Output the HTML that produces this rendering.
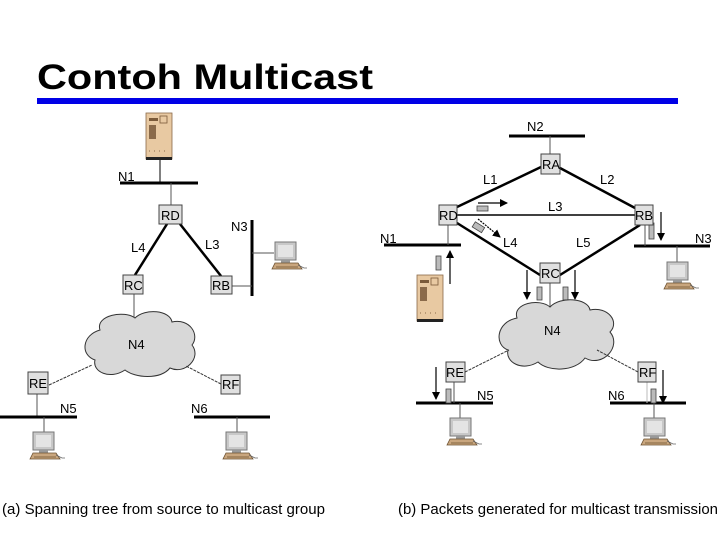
<!DOCTYPE html>
<html><head><meta charset="utf-8"><style>
html,body{margin:0;padding:0;background:#fff}
svg{display:block}
text{font-family:"Liberation Sans",Arial,sans-serif;fill:#000}
</style></head><body>
<svg width="720" height="540" viewBox="0 0 720 540" xmlns="http://www.w3.org/2000/svg">
<defs>
<g id="pc">
  <rect x="3" y="0" width="21" height="18" fill="#c8c8c8" stroke="#777" stroke-width="1"/>
  <rect x="6" y="3" width="15" height="12" fill="#e4e4e4"/>
  <rect x="9" y="18" width="9" height="3" fill="#999"/>
  <polygon points="0,27 3,21 26,21 30,27" fill="#c9a67e" stroke="#6b5030" stroke-width="0.8"/>
  <line x1="4" y1="25" x2="26" y2="25" stroke="#6b5030" stroke-width="0.8"/>
  <path d="M26,23 l6,3 l3,0" stroke="#666" stroke-width="0.8" fill="none"/>
</g>
<g id="srv">
  <rect x="0" y="0" width="26" height="46" fill="#e8c9a2" stroke="#8a6a4a" stroke-width="0.8"/>
  <rect x="0" y="44" width="26" height="3" fill="#222"/>
  <rect x="3" y="5" width="9" height="3" fill="#7a5a3a"/>
  <rect x="14" y="3" width="7" height="7" fill="none" stroke="#7a5a3a" stroke-width="0.8"/>
  <rect x="3" y="12" width="7" height="14" fill="#8a6a4a"/>
  <line x1="3" y1="38" x2="23" y2="38" stroke="#8a6a4a" stroke-dasharray="1 4"/>
</g>
<marker id="ah" markerWidth="8" markerHeight="8" refX="7" refY="4" orient="auto" markerUnits="userSpaceOnUse">
  <path d="M0,0 L8,4 L0,8 z" fill="#000"/>
</marker>
</defs>

<!-- title -->
<text x="37" y="89" font-size="35" font-weight="bold" textLength="336" lengthAdjust="spacingAndGlyphs">Contoh Multicast</text>
<rect x="37" y="98" width="641" height="6" fill="#0000e6"/>

<!-- ===== LEFT ===== -->
<g stroke-linecap="butt">
<use href="#srv" x="146" y="113"/>
<line x1="160" y1="160" x2="160" y2="183" stroke="#000" stroke-width="1"/>
<line x1="120" y1="183" x2="198" y2="183" stroke="#000" stroke-width="3"/>
<text x="118" y="181" font-size="13">N1</text>
<line x1="171" y1="183" x2="171" y2="205" stroke="#555" stroke-width="1"/>
<line x1="167" y1="224" x2="135" y2="275" stroke="#000" stroke-width="2.5"/>
<line x1="180" y1="224" x2="221" y2="276" stroke="#000" stroke-width="2.5"/>
<text x="131" y="252" font-size="13">L4</text>
<text x="205" y="249" font-size="13">L3</text>
<line x1="252" y1="220" x2="252" y2="296" stroke="#000" stroke-width="3"/>
<text x="231" y="231" font-size="13">N3</text>
<line x1="232" y1="286" x2="252" y2="286" stroke="#555"/>
<line x1="252" y1="253" x2="274" y2="253" stroke="#555"/>
<use href="#pc" x="272" y="242"/>
<line x1="134" y1="294" x2="134" y2="320" stroke="#555"/>
<path d="M100,330 C95,315 125,310 135,318 C145,308 170,310 172,322 C190,318 200,335 192,345 C202,358 185,375 170,368 C160,380 135,378 125,370 C110,380 92,372 95,360 C80,355 82,335 100,330 z" fill="#d8d8d8" stroke="#333" stroke-width="1"/>
<text x="128" y="349" font-size="13">N4</text>
<line x1="49" y1="385" x2="92" y2="365" stroke="#333" stroke-dasharray="3 1"/>
<line x1="221" y1="384" x2="186" y2="366" stroke="#333" stroke-dasharray="3 1"/>
<line x1="37" y1="394" x2="37" y2="417" stroke="#555"/>
<line x1="0" y1="417" x2="77" y2="417" stroke="#000" stroke-width="3"/>
<text x="60" y="413" font-size="13">N5</text>
<line x1="194" y1="417" x2="270" y2="417" stroke="#000" stroke-width="3"/>
<text x="191" y="413" font-size="13">N6</text>
<line x1="44" y1="417" x2="44" y2="433" stroke="#555"/>
<line x1="237" y1="417" x2="237" y2="433" stroke="#555"/>
<use href="#pc" x="30" y="432"/>
<use href="#pc" x="223" y="432"/>
</g>
<g fill="#e0e0e0" stroke="#444" stroke-width="1">
<rect x="159" y="205" width="23" height="19"/>
<rect x="123" y="275" width="20" height="19"/>
<rect x="211" y="276" width="21" height="18"/>
<rect x="28" y="372" width="20" height="22"/>
<rect x="221" y="375" width="19" height="19"/>
</g>
<g font-size="13">
<text x="161" y="220">RD</text>
<text x="124" y="290">RC</text>
<text x="212" y="290">RB</text>
<text x="29" y="388">RE</text>
<text x="222" y="389">RF</text>
</g>

<!-- ===== RIGHT ===== -->
<line x1="509" y1="136" x2="585" y2="136" stroke="#000" stroke-width="3"/>
<text x="527" y="131" font-size="13">N2</text>
<line x1="550" y1="136" x2="550" y2="154" stroke="#555"/>
<g stroke="#000" stroke-width="2.5">
<line x1="457" y1="207" x2="541" y2="167"/>
<line x1="560" y1="168" x2="635" y2="208"/>
<line x1="457" y1="223" x2="540" y2="275"/>
<line x1="640" y1="225" x2="560" y2="275"/>
</g>
<line x1="457" y1="215" x2="635" y2="215" stroke="#000" stroke-width="1.5"/>
<g font-size="13">
<text x="483" y="184">L1</text>
<text x="600" y="184">L2</text>
<text x="548" y="211">L3</text>
<text x="503" y="247">L4</text>
<text x="576" y="247">L5</text>
</g>
<rect x="477" y="206" width="11" height="5" fill="#bbb" stroke="#444" stroke-width="0.8"/>
<line x1="478" y1="203" x2="507" y2="203" stroke="#000" stroke-width="1.2" marker-end="url(#ah)"/>
<rect x="473" y="224" width="11" height="6" fill="#bbb" stroke="#444" stroke-width="0.8" transform="rotate(32 478 227)"/>
<line x1="478" y1="219" x2="500" y2="237" stroke="#000" stroke-width="1.2" stroke-dasharray="2 1" marker-end="url(#ah)"/>

<line x1="384" y1="245" x2="461" y2="245" stroke="#000" stroke-width="3"/>
<text x="380" y="243" font-size="13">N1</text>
<line x1="448" y1="225" x2="448" y2="245" stroke="#555"/>
<rect x="436" y="256" width="5" height="14" fill="#bbb" stroke="#444" stroke-width="0.8"/>
<line x1="450" y1="284" x2="450" y2="251" stroke="#000" stroke-width="1.2" marker-end="url(#ah)"/>
<use href="#srv" x="417" y="275"/>

<line x1="634" y1="246" x2="710" y2="246" stroke="#000" stroke-width="3"/>
<text x="695" y="243" font-size="13">N3</text>
<line x1="645" y1="225" x2="645" y2="246" stroke="#555"/>
<rect x="649" y="223" width="5" height="16" fill="#bbb" stroke="#444" stroke-width="0.8"/>
<line x1="661" y1="212" x2="661" y2="240" stroke="#000" stroke-width="1.2" marker-end="url(#ah)"/>
<line x1="677" y1="246" x2="677" y2="263" stroke="#555"/>
<use href="#pc" x="664" y="262"/>

<line x1="527" y1="270" x2="527" y2="299" stroke="#000" stroke-width="1.2" marker-end="url(#ah)"/>
<rect x="537" y="287" width="5" height="13" fill="#bbb" stroke="#444" stroke-width="0.8"/>
<rect x="563" y="287" width="5" height="13" fill="#bbb" stroke="#444" stroke-width="0.8"/>
<line x1="575" y1="270" x2="575" y2="299" stroke="#000" stroke-width="1.2" marker-end="url(#ah)"/>
<line x1="550" y1="283" x2="550" y2="308" stroke="#555"/>
<path d="M517,318 C512,303 540,298 550,307 C560,296 588,298 590,310 C608,306 620,322 610,332 C622,346 603,368 585,358 C575,372 548,372 538,362 C522,372 505,362 508,350 C494,345 496,322 517,318 z" fill="#d8d8d8" stroke="#333" stroke-width="1"/>
<text x="544" y="335" font-size="13">N4</text>
<line x1="465" y1="372" x2="509" y2="350" stroke="#333" stroke-dasharray="3 1"/>
<line x1="638" y1="372" x2="597" y2="350" stroke="#333" stroke-dasharray="3 1"/>

<line x1="416" y1="403" x2="493" y2="403" stroke="#000" stroke-width="3"/>
<text x="477" y="400" font-size="13">N5</text>
<line x1="454" y1="382" x2="454" y2="403" stroke="#555"/>
<rect x="446" y="389" width="5" height="14" fill="#bbb" stroke="#444" stroke-width="0.8"/>
<line x1="436" y1="367" x2="436" y2="399" stroke="#000" stroke-width="1.2" marker-end="url(#ah)"/>
<line x1="610" y1="403" x2="686" y2="403" stroke="#000" stroke-width="3"/>
<text x="608" y="400" font-size="13">N6</text>
<line x1="647" y1="382" x2="647" y2="403" stroke="#bbb"/>
<rect x="651" y="389" width="5" height="14" fill="#bbb" stroke="#444" stroke-width="0.8"/>
<line x1="663" y1="370" x2="663" y2="403" stroke="#000" stroke-width="1.2" marker-end="url(#ah)"/>
<line x1="460" y1="403" x2="460" y2="419" stroke="#555"/>
<line x1="654" y1="403" x2="654" y2="419" stroke="#555"/>
<use href="#pc" x="447" y="418"/>
<use href="#pc" x="641" y="418"/>

<g fill="#e0e0e0" stroke="#444" stroke-width="1">
<rect x="541" y="154" width="19" height="20"/>
<rect x="439" y="205" width="18" height="20"/>
<rect x="635" y="205" width="18" height="20"/>
<rect x="540" y="263" width="20" height="20"/>
<rect x="446" y="362" width="19" height="20"/>
<rect x="638" y="362" width="18" height="20"/>
</g>
<g font-size="13">
<text x="542" y="169">RA</text>
<text x="439" y="220">RD</text>
<text x="635" y="220">RB</text>
<text x="541" y="278">RC</text>
<text x="446" y="377">RE</text>
<text x="639" y="377">RF</text>
</g>

<!-- captions -->
<text x="2" y="514" font-size="15" textLength="323" lengthAdjust="spacingAndGlyphs">(a) Spanning tree from source to multicast group</text>
<text x="398" y="514" font-size="15" textLength="320" lengthAdjust="spacingAndGlyphs">(b) Packets generated for multicast transmission</text>
</svg>
</body></html>
